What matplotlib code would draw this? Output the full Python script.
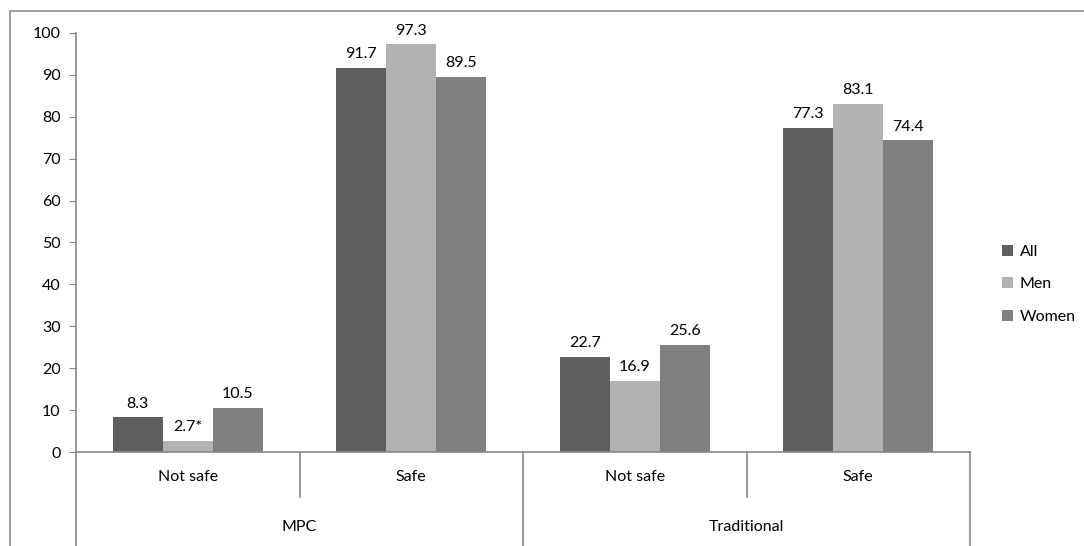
import matplotlib
matplotlib.use("Agg")
import numpy as np
import matplotlib.pyplot as plt
from matplotlib.patches import Rectangle

plt.rcParams['font.family'] = ['Lato', 'DejaVu Sans']

categories = ['Not safe', 'Safe', 'Not safe', 'Safe']
groups = ['MPC', 'Traditional']
series = ['All', 'Men', 'Women']
values_all = [8.3, 91.7, 22.7, 77.3]
values_men = [2.7, 97.3, 16.9, 83.1]
values_women = [10.5, 89.5, 25.6, 74.4]
labels_men = ['2.7*', '97.3', '16.9', '83.1']
colors = ['#5f5f5f', '#b2b2b2', '#808080']

W, H = 1084, 546
FS = 11.5
fig = plt.figure(figsize=(W / 100, H / 100), dpi=100)
ax = fig.add_axes([76 / W, 1 - 452 / H, (970 - 76) / W, (452 - 33) / H])

# outer chart border (only top/left visible in the crop)
fig.patches.append(Rectangle((10 / W, -0.1), 1.2, 1 - 11 / H + 0.1,
                             transform=fig.transFigure, fill=False,
                             edgecolor='#8c8c8c', lw=1.2))

x = np.arange(len(categories))
bw = 0.224
all_vals = [values_all, values_men, values_women]
all_labels = [[f'{v:.1f}' for v in values_all], labels_men,
              [f'{v:.1f}' for v in values_women]]
handles = []
for i, (vals, labs, c, name) in enumerate(zip(all_vals, all_labels, colors, series)):
    bars = ax.bar(x + (i - 1) * bw, vals, bw, color=c, label=name)
    handles.append(bars)
    for b, lab in zip(bars, labs):
        ax.text(b.get_x() + b.get_width() / 2, b.get_height() + 1.6, lab,
                ha='center', va='bottom', fontsize=FS, color='black')

ax.set_xlim(-0.5, 3.5)
ax.set_ylim(0, 100)
ax.set_yticks(range(0, 101, 10))
ax.tick_params(axis='y', length=5, color='#868686', labelsize=FS,
               labelcolor='black', pad=6)
ax.set_xticks([])
for s in ['top', 'right']:
    ax.spines[s].set_visible(False)
for s in ['left', 'bottom']:
    ax.spines[s].set_color('#868686')
    ax.spines[s].set_linewidth(1.2)

# multi-level category axis
px = 1 / (452 - 33)
for xf, long in [(0, True), (0.25, False), (0.5, True), (0.75, False), (1.0, True)]:
    y0 = -120 * px if long else -45 * px
    ax.plot([xf, xf], [0, y0], transform=ax.transAxes, color='#868686',
            lw=1.2, clip_on=False)
for i, cat in enumerate(categories):
    ax.text((i + 0.5) / 4, -25 * px, cat, transform=ax.transAxes,
            ha='center', va='center', fontsize=FS, color='black')
for i, g in enumerate(groups):
    ax.text((2 * i + 1) / 4, -75 * px, g, transform=ax.transAxes,
            ha='center', va='center', fontsize=FS, color='black')

ax.legend(handles=handles, loc='center left', bbox_to_anchor=(1.02, 0.4),
          frameon=False, fontsize=FS, handlelength=0.7, handleheight=0.7,
          labelspacing=1.15, handletextpad=0.4)

fig.savefig('out.png', dpi=100)
